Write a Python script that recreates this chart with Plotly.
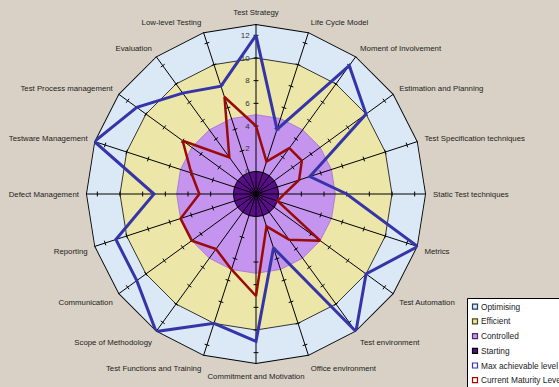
import plotly.graph_objects as go

categories = [
    "Test Strategy", "Life Cycle Model", "Moment of Involvement", "Estimation and Planning",
    "Test Specification techniques", "Static Test techniques", "Metrics", "Test Automation",
    "Test environment", "Office environment", "Commitment and Motivation",
    "Test Functions and Training", "Scope of Methodology", "Communication", "Reporting",
    "Defect Management", "Testware Management", "Test Process management", "Evaluation",
    "Low-level Testing",
]

optimising = [13] * 20
efficient = [10] * 20
controlled = [5] * 20
starting = [0] * 20

max_level = [12, 4, 12, 10, 3, 6, 13, 10, 13, 3, 11, 10, 13, 11, 11, 7, 13, 11, 9, 8]
current_level = [4, 1, 3, 3, 2, 0.5, 0, 5, 3, 1, 7, 5, 4, 5, 5, 3, 4, 6, 2, 7]

radial_ticks = [0, 2, 4, 6, 8, 10, 12]
radial_min = -2
radial_max = 13

legend_names = ["Optimising", "Efficient", "Controlled", "Starting",
                "Max achievable level", "Current Maturity Level"]

FONT = "Liberation Sans, Arial, sans-serif"
W, H = 559, 387


def closed(vals):
    return list(vals) + [vals[0]]


def px(x):
    return x / W


def py(y):
    return 1 - y / H


theta_c = closed(categories)

fig = go.Figure()

bands = [
    (optimising, "#dbe8f6", "#000000", 1.8),
    (efficient, "#ece6a8", "#333333", 1.0),
    (controlled, "#c594ee", "#a070d0", 0.8),
    (starting, "#5a0d8a", "#000000", 1.0),
]
for name, (vals, fc, lc, lw) in zip(legend_names, bands):
    fig.add_trace(go.Scatterpolar(
        r=closed(vals), theta=theta_c, mode="lines", fill="toself",
        fillcolor=fc, line=dict(color=lc, width=lw), name=name,
        showlegend=False, hoverinfo="skip",
    ))

# spokes
spoke_r, spoke_t = [], []
for c in categories:
    spoke_r += [radial_min, radial_max, None]
    spoke_t += [c, c, c]
fig.add_trace(go.Scatterpolar(
    r=spoke_r, theta=spoke_t, mode="lines", line=dict(color="#000000", width=1),
    showlegend=False, hoverinfo="skip", connectgaps=False,
))

# tick marks on each spoke
tk_r, tk_t, tk_a = [], [], []
for i, c in enumerate(categories):
    for v in radial_ticks:
        tk_r.append(v)
        tk_t.append(c)
        tk_a.append(i * 360.0 / len(categories))
fig.add_trace(go.Scatterpolar(
    r=tk_r, theta=tk_t, mode="markers",
    marker=dict(symbol="line-ew", size=3.5, angle=tk_a,
                line=dict(color="#000000", width=1)),
    showlegend=False, hoverinfo="skip",
))

fig.add_trace(go.Scatterpolar(
    r=closed(max_level), theta=theta_c, mode="lines",
    line=dict(color="#3535a8", width=3), name=legend_names[4], showlegend=False,
))
fig.add_trace(go.Scatterpolar(
    r=closed(current_level), theta=theta_c, mode="lines",
    line=dict(color="#990a0a", width=2.5), name=legend_names[5], showlegend=False,
))

# manual legend (box, swatches, labels)
legend_fill = ["#dbe8f6", "#ece6a8", "#c594ee", "#5a0d8a", "#ffffff", "#ffffff"]
legend_edge = ["#1f3f5f", "#4a4a10", "#4a2a70", "#000000", "#3535c8", "#b00000"]
shapes = [dict(type="rect", xref="paper", yref="paper",
               x0=px(467.5), x1=px(575), y0=py(400), y1=py(298.5),
               fillcolor="#ffffff", line=dict(color="#000000", width=1), layer="above")]
annotations = []
y0, dy = 306.7, 14.7
for k, (name, fc, ec) in enumerate(zip(legend_names, legend_fill, legend_edge)):
    yc = y0 + k * dy
    shapes.append(dict(type="rect", xref="paper", yref="paper",
                       x0=px(472.5), x1=px(477.5), y0=py(yc + 2.5), y1=py(yc - 2.5),
                       fillcolor=fc, line=dict(color=ec, width=1.2), layer="above"))
    annotations.append(dict(x=px(478.5), y=py(yc), xref="paper", yref="paper",
                            text=name, showarrow=False, xanchor="left", yanchor="middle",
                            font=dict(size=8.3, color="#222222", family=FONT)))

fig.update_layout(
    width=W, height=H,
    margin=dict(l=0, r=0, t=0, b=0, autoexpand=False),
    paper_bgcolor="#d9d1c5",
    showlegend=False,
    font=dict(family=FONT, size=8, color="#222222"),
    shapes=shapes,
    annotations=annotations,
    polar=dict(
        domain=dict(x=[px(86), px(426)], y=[py(364), py(24)]),
        bgcolor="rgba(0,0,0,0)",
        gridshape="linear",
        angularaxis=dict(
            categoryarray=categories, categoryorder="array",
            rotation=90, direction="clockwise",
            showgrid=False, showline=False,
            ticks="outside", ticklen=5, tickcolor="rgba(0,0,0,0)",
            tickfont=dict(size=7.8, color="#222222", family=FONT),
        ),
        radialaxis=dict(
            range=[radial_min, radial_max], angle=90, tickangle=90,
            tickvals=radial_ticks, showgrid=False, showline=False,
            ticks="outside", ticklen=3, tickcolor="rgba(0,0,0,0)",
            side="counterclockwise", layer="above traces",
            tickfont=dict(size=8, color="#333333", family=FONT),
        ),
    ),
)

fig.write_html("out.html")
